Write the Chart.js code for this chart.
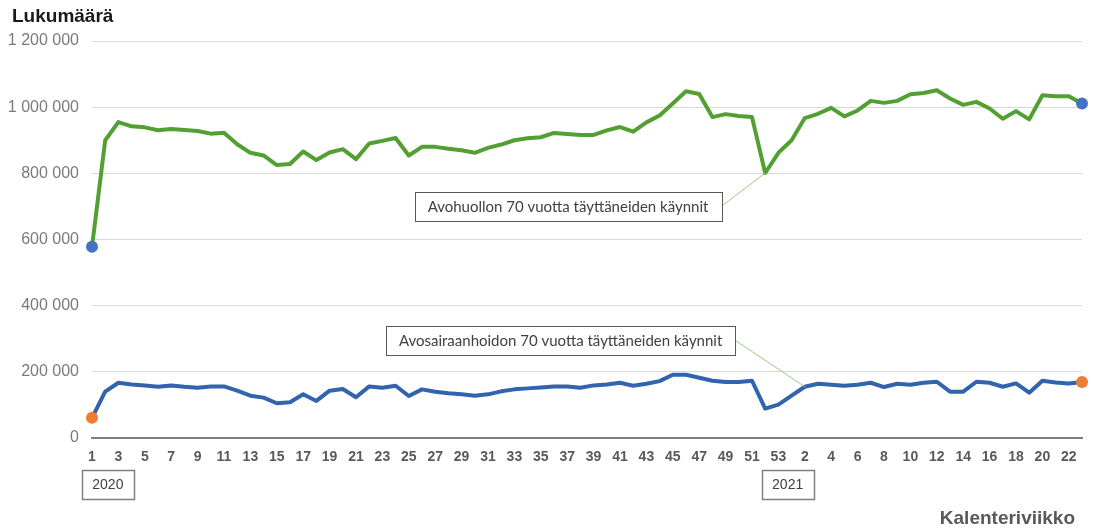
<!DOCTYPE html>
<html>
<head>
<meta charset="utf-8">
<script src="https://cdn.jsdelivr.net/npm/chart.js@4.4.1/dist/chart.umd.min.js"></script>
<style>
html,body{margin:0;padding:0;background:#fff;}
#wrap{width:1093px;height:532px;position:relative;}
</style>
</head>
<body>
<div id="wrap"><canvas id="c"></canvas></div>
<script>
// Calendar weeks: 2020 weeks 1-53, 2021 weeks 1-23
const weeks2020 = [1,2,3,4,5,6,7,8,9,10,11,12,13,14,15,16,17,18,19,20,21,22,23,24,25,26,27,28,29,30,31,32,33,34,35,36,37,38,39,40,41,42,43,44,45,46,47,48,49,50,51,52,53];
const weeks2021 = [1,2,3,4,5,6,7,8,9,10,11,12,13,14,15,16,17,18,19,20,21,22,23];
const categories = weeks2020.concat(weeks2021);

// Avohuollon 70 vuotta täyttäneiden käynnit (green)
const avohuolto = [
  578000,900000,955000,942000,939000,930000,934000,931000,928000,920000,
  923000,888000,862000,854000,825000,828000,866000,840000,863000,873000,
  843000,890000,898000,907000,854000,880000,880000,874000,870000,862000,
  877000,887000,900000,906000,909000,922000,919000,916000,916000,930000,
  940000,926000,954000,975000,1011000,1048000,1040000,970000,979000,973000,
  970000,801000,862000,900000,967000,980000,998000,972000,990000,1019000,
  1013000,1019000,1039000,1043000,1051000,1026000,1007000,1016000,996000,965000,
  988000,963000,1036000,1033000,1033000,1011000
];

// Avosairaanhoidon 70 vuotta täyttäneiden käynnit (blue)
const avosairaanhoito = [
  61000,140000,167000,162000,159000,155000,159000,155000,152000,156000,
  156000,143000,128000,122000,105000,108000,132000,112000,143000,148000,
  123000,156000,152000,158000,127000,147000,140000,135000,132000,128000,
  132000,141000,147000,150000,153000,156000,156000,152000,159000,162000,
  167000,158000,164000,172000,191000,191000,182000,173000,169000,169000,
  173000,89000,101000,128000,155000,164000,161000,158000,161000,167000,
  154000,164000,161000,167000,170000,140000,140000,170000,167000,155000,
  165000,137000,173000,168000,165000,169000
];

const yTicks = [0,200000,400000,600000,800000,1000000,1200000];
const yearLabels = ['2020','2021'];
const yearLabelIndex = [1.2, 52.7];
const seriesNames = ['Avohuollon 70 vuotta täyttäneiden käynnit','Avosairaanhoidon 70 vuotta täyttäneiden käynnit'];
// annotation anchors (in data units): box centre index/value, leader target index
const calloutBoxIndex = [36.06, 35.5];
const calloutBoxValue = [700000, 295000];
const calloutTargetIndex = [51, 54];

const GREEN = '#52A032';
const BLUE = '#3163AF';
const DOT_BLUE = '#4472C4';
const DOT_ORANGE = '#ED7D31';

function fmt(v){ return String(v).replace(/\B(?=(\d{3})+(?!\d))/g,' '); }

const lastIdx = categories.length - 1;
function endRadius(ctx){ return (ctx.dataIndex === 0 || ctx.dataIndex === lastIdx) ? 6 : 0; }

const decorPlugin = {
  id: 'decor',
  afterDatasetsDraw(chart){
    const ctx = chart.ctx;
    const xs = chart.scales.x, ys = chart.scales.y;
    const data = [avohuolto, avosairaanhoito];
    ctx.save();
    // callouts
    ctx.font = '15px Lato, "Open Sans", sans-serif';
    for (let s=0; s<2; s++){
      const cx = xs.getPixelForValue(calloutBoxIndex[s]);
      const cy = ys.getPixelForValue(calloutBoxValue[s]);
      const tw = ctx.measureText(seriesNames[s]).width;
      const w = tw + 26, h = 29;
      const left = cx - w/2, top = cy - h/2;
      const tx = xs.getPixelForValue(calloutTargetIndex[s]);
      const ty = ys.getPixelForValue(data[s][calloutTargetIndex[s]]);
      ctx.strokeStyle = '#9CCB80';
      ctx.lineWidth = 1;
      ctx.beginPath();
      ctx.moveTo(left + w, cy);
      ctx.lineTo(tx, ty);
      ctx.stroke();
      ctx.fillStyle = '#fff';
      ctx.fillRect(left, top, w, h);
      ctx.strokeStyle = '#595959';
      ctx.lineWidth = 1;
      ctx.strokeRect(Math.round(left)+0.5, Math.round(top)+0.5, Math.round(w), h);
      ctx.fillStyle = '#404040';
      ctx.textBaseline = 'middle';
      ctx.textAlign = 'center';
      ctx.fillText(seriesNames[s], cx, cy + 1);
    }
    // year boxes
    ctx.font = '14px "Liberation Sans", Arial, sans-serif';
    for (let i=0;i<yearLabels.length;i++){
      const cx = xs.getPixelForValue(yearLabelIndex[i]);
      const w = 52, h = 29;
      const top = chart.chartArea.bottom + 32;
      ctx.fillStyle = '#fff';
      ctx.fillRect(cx-w/2, top, w, h);
      ctx.strokeStyle = '#7f7f7f';
      ctx.lineWidth = 1.5;
      ctx.strokeRect(Math.round(cx-w/2)+0.5, top+0.5, w, h);
      ctx.fillStyle = '#404040';
      ctx.textAlign = 'center';
      ctx.textBaseline = 'middle';
      ctx.fillText(yearLabels[i], cx, top + h/2 + 1);
    }
    // axis titles
    ctx.font = 'bold 19px "Liberation Sans", Arial, sans-serif';
    ctx.fillStyle = '#1a1a1a';
    ctx.textAlign = 'left';
    ctx.textBaseline = 'middle';
    ctx.fillText('Lukumäärä', 12, 17);
    ctx.font = 'bold 19px "Liberation Sans", Arial, sans-serif';
    ctx.fillStyle = '#595959';
    ctx.textAlign = 'right';
    ctx.fillText('Kalenteriviikko', 1075, 519);
    ctx.restore();
  }
};

new Chart(document.getElementById('c'), {
  type: 'line',
  data: {
    labels: categories,
    datasets: [
      {
        label: seriesNames[0],
        data: avohuolto,
        borderColor: GREEN,
        borderWidth: 4,
        tension: 0,
        pointRadius: endRadius,
        pointHoverRadius: endRadius,
        pointBackgroundColor: DOT_BLUE,
        pointBorderColor: DOT_BLUE,
        pointBorderWidth: 0,
        borderJoinStyle: 'round'
      },
      {
        label: seriesNames[1],
        data: avosairaanhoito,
        borderColor: BLUE,
        borderWidth: 4,
        tension: 0,
        pointRadius: endRadius,
        pointHoverRadius: endRadius,
        pointBackgroundColor: DOT_ORANGE,
        pointBorderColor: DOT_ORANGE,
        pointBorderWidth: 0,
        borderJoinStyle: 'round'
      }
    ]
  },
  options: {
    responsive: true,
    maintainAspectRatio: false,
    animation: false,
    events: [],
    layout: { padding: { top: 41, right: 10, left: 0, bottom: 0 } },
    plugins: { legend: { display: false }, tooltip: { enabled: false } },
    scales: {
      x: {
        type: 'category',
        offset: false,
        grid: { display: false, drawTicks: false },
        border: { display: true, color: '#7f7f7f', width: 2 },
        ticks: {
          autoSkip: false,
          maxRotation: 0,
          minRotation: 0,
          padding: 11,
          color: '#595959',
          font: { family: '"Liberation Sans", Arial, sans-serif', size: 14, weight: 'bold' },
          callback: function(v, i){ return (i % 2 === 0) ? String(categories[i]) : ''; }
        },
        afterFit(scale){ scale.height = 94; }
      },
      y: {
        min: 0,
        max: 1200000,
        afterBuildTicks(scale){ scale.ticks = yTicks.map(v => ({value: v})); },
        grid: { color: '#d9d9d9', lineWidth: 1, drawTicks: false },
        border: { display: false },
        ticks: {
          padding: 13,
          color: '#7a7a7a',
          font: { family: '"Liberation Sans", Arial, sans-serif', size: 16 },
          callback: v => fmt(v)
        },
        afterFit(scale){ scale.width = 92; }
      }
    }
  },
  plugins: [decorPlugin]
});
</script>
</body>
</html>
